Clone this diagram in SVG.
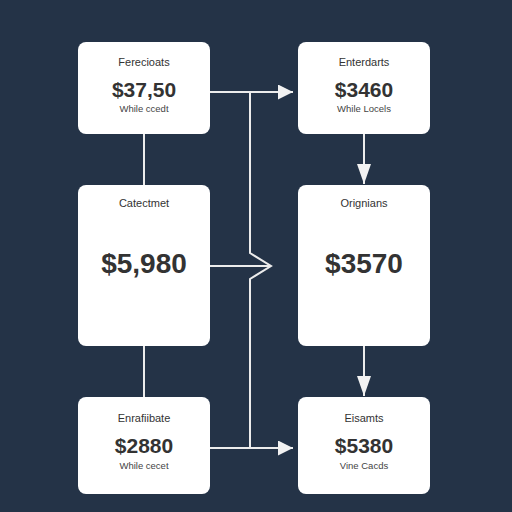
<svg xmlns="http://www.w3.org/2000/svg" width="512" height="512" viewBox="0 0 512 512">
<defs>
<style>
.box{fill:#ffffff;}
.lbl{font-family:"Liberation Sans",Arial,sans-serif;font-size:11px;fill:#333;text-anchor:middle;}
.num{font-family:"Liberation Sans",Arial,sans-serif;font-weight:bold;fill:#333;text-anchor:middle;}
.sub{font-family:"Liberation Sans",Arial,sans-serif;font-size:9.5px;fill:#444;text-anchor:middle;}
.ln{stroke:#ececec;stroke-width:2;fill:none;}
</style>
<marker id="ahb" viewBox="0 0 10 10" refX="10" refY="5" markerWidth="15" markerHeight="15" markerUnits="userSpaceOnUse" orient="auto">
<path d="M0,0 L10,5 L0,10 z" fill="#f2f2f2"/>
</marker>
<marker id="ahv" viewBox="0 0 20 14" refX="20" refY="7" markerWidth="20" markerHeight="14" markerUnits="userSpaceOnUse" orient="auto">
<path d="M0,0 L20,7 L0,14 z" fill="#f2f2f2"/>
</marker>
</defs>
<rect width="512" height="512" fill="#243347"/>
<g id="connectors">
<line class="ln" x1="144" y1="134" x2="144" y2="185"/>
<line class="ln" x1="144" y1="346" x2="144" y2="397"/>
<line class="ln" x1="210" y1="92" x2="293" y2="92" marker-end="url(#ahb)"/>
<line class="ln" x1="210" y1="448" x2="293" y2="448" marker-end="url(#ahb)"/>
<polyline class="ln" points="250,92 250,253 271,266 250,279 250,448"/>
<line class="ln" x1="210" y1="266" x2="270" y2="266"/>
<line class="ln" x1="364" y1="134" x2="364" y2="184" marker-end="url(#ahv)"/>
<line class="ln" x1="364" y1="346" x2="364" y2="396" marker-end="url(#ahv)"/>
</g>
<g id="nodeA">
<rect class="box" x="78" y="42" width="132" height="92" rx="8"/>
<text class="lbl" x="144" y="66">Ferecioats</text>
<text class="num" x="144" y="97" font-size="21">$37,50</text>
<text class="sub" x="144" y="112">While ccedt</text>
</g>
<g id="nodeB">
<rect class="box" x="298" y="42" width="132" height="92" rx="8"/>
<text class="lbl" x="364" y="66">Enterdarts</text>
<text class="num" x="364" y="97" font-size="21">$3460</text>
<text class="sub" x="364" y="112">While Locels</text>
</g>
<g id="nodeC">
<rect class="box" x="78" y="185" width="132" height="161" rx="8"/>
<text class="lbl" x="144" y="207">Catectmet</text>
<text class="num" x="144" y="273" font-size="28">$5,980</text>
</g>
<g id="nodeD">
<rect class="box" x="298" y="185" width="132" height="161" rx="8"/>
<text class="lbl" x="364" y="207">Orignians</text>
<text class="num" x="364" y="273" font-size="28">$3570</text>
</g>
<g id="nodeE">
<rect class="box" x="78" y="397" width="132" height="97" rx="8"/>
<text class="lbl" x="144" y="422">Enrafiibate</text>
<text class="num" x="144" y="453" font-size="21">$2880</text>
<text class="sub" x="144" y="469">While cecet</text>
</g>
<g id="nodeF">
<rect class="box" x="298" y="397" width="132" height="97" rx="8"/>
<text class="lbl" x="364" y="422">Eisamts</text>
<text class="num" x="364" y="453" font-size="21">$5380</text>
<text class="sub" x="364" y="469">Vine Cacds</text>
</g>
</svg>
